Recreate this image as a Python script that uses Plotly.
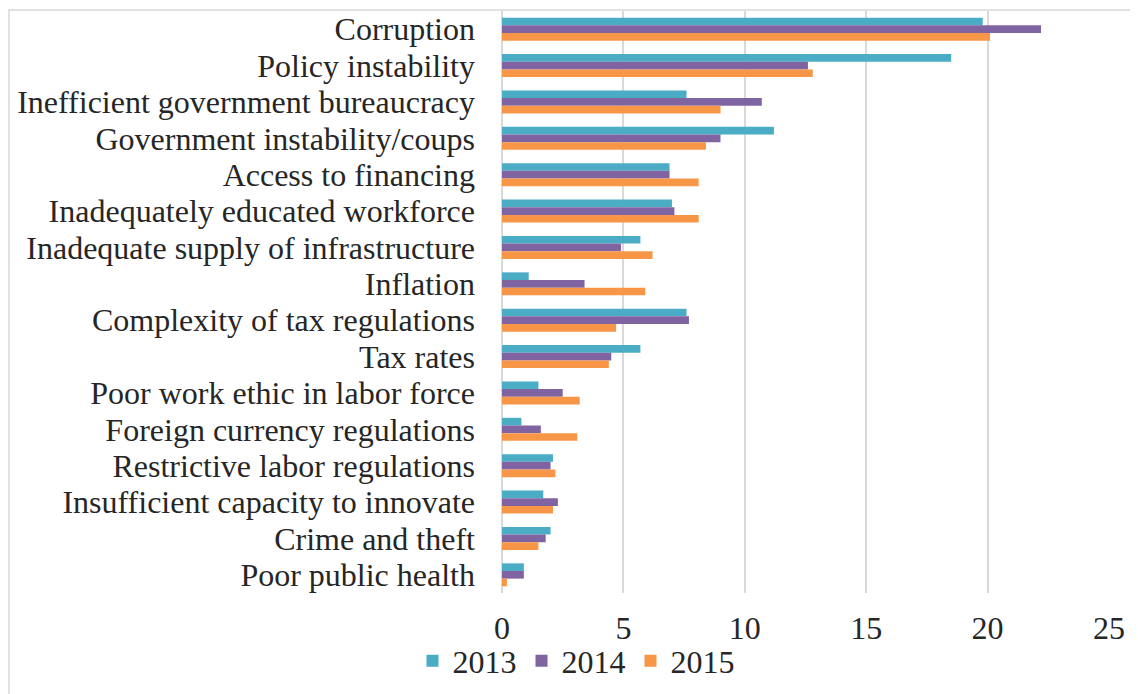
import plotly.graph_objects as go

categories = [
    "Corruption",
    "Policy instability",
    "Inefficient government bureaucracy",
    "Government instability/coups",
    "Access to financing",
    "Inadequately educated workforce",
    "Inadequate supply of infrastructure",
    "Inflation",
    "Complexity of tax regulations",
    "Tax rates",
    "Poor work ethic in labor force",
    "Foreign currency regulations",
    "Restrictive labor regulations",
    "Insufficient capacity to innovate",
    "Crime and theft",
    "Poor public health",
]

v2013 = [19.8, 18.5, 7.6, 11.2, 6.9, 7.0, 5.7, 1.1, 7.6, 5.7, 1.5, 0.8, 2.1, 1.7, 2.0, 0.9]
v2014 = [22.2, 12.6, 10.7, 9.0, 6.9, 7.1, 4.9, 3.4, 7.7, 4.5, 2.5, 1.6, 2.0, 2.3, 1.8, 0.9]
v2015 = [20.1, 12.8, 9.0, 8.4, 8.1, 8.1, 6.2, 5.9, 4.7, 4.4, 3.2, 3.1, 2.2, 2.1, 1.5, 0.2]

series_names = ["2013", "2014", "2015"]
colors = ["#4BACC6", "#8064A2", "#F79646"]

x_ticks = [0, 5, 10, 15, 20, 25]

OFF = 8  # page body margin
W, H = 1138 - OFF, 694 - OFF
L, R, T, B = 502 - OFF, 1109 - OFF, 11 - OFF, 593 - OFF

fig = go.Figure()
for name, vals, col in zip(series_names, [v2013, v2014, v2015], colors):
    fig.add_trace(go.Bar(
        y=categories, x=vals, name=name, orientation="h",
        marker=dict(color=col, line=dict(width=0)),
    ))

pw = R - L
ph = B - T
# chart-area border: only left and top edges visible in the reference
fig.add_shape(
    type="rect", xref="paper", yref="paper",
    x0=(9 - OFF - L) / pw, x1=(1160 - OFF - L) / pw,
    y0=(B - (720 - OFF)) / ph, y1=(B - (10 - OFF)) / ph,
    line=dict(color="#d9d9d9", width=1.5), fillcolor="rgba(0,0,0,0)",
    layer="below",
)

font_family = "Liberation Serif, Times New Roman, serif"
FS = 32
fig.update_layout(
    width=W, height=H,
    margin=dict(l=L, r=W - R, t=T, b=H - B, pad=0, autoexpand=False),
    paper_bgcolor="white", plot_bgcolor="white",
    barmode="group", bargap=0.37, bargroupgap=0,
    font=dict(family=font_family, size=FS, color="#262626"),
    showlegend=True,
    legend=dict(
        orientation="h", xref="container", yref="container",
        x=0.5 + 3 / W, xanchor="center", y=(H - (661 - OFF)) / H, yanchor="middle",
        font=dict(size=FS), itemwidth=30, tracegroupgap=0,
        bgcolor="rgba(0,0,0,0)",
    ),
    xaxis=dict(
        range=[0, 25], tickvals=x_ticks, ticktext=[str(t) for t in x_ticks],
        showgrid=True, gridcolor="#d9d9d9", gridwidth=2,
        zeroline=True, zerolinecolor="#d9d9d9", zerolinewidth=2,
        showline=False, ticks="", ticklabelstandoff=13, automargin=False,
        tickfont=dict(size=FS),
    ),
    yaxis=dict(
        autorange="reversed", showgrid=False, showline=False, ticks="",
        tickmode="array", tickvals=categories, ticktext=categories,
        ticklabelstandoff=26, tickfont=dict(size=FS), automargin=False,
    ),
)

fig.write_html("out.html")
